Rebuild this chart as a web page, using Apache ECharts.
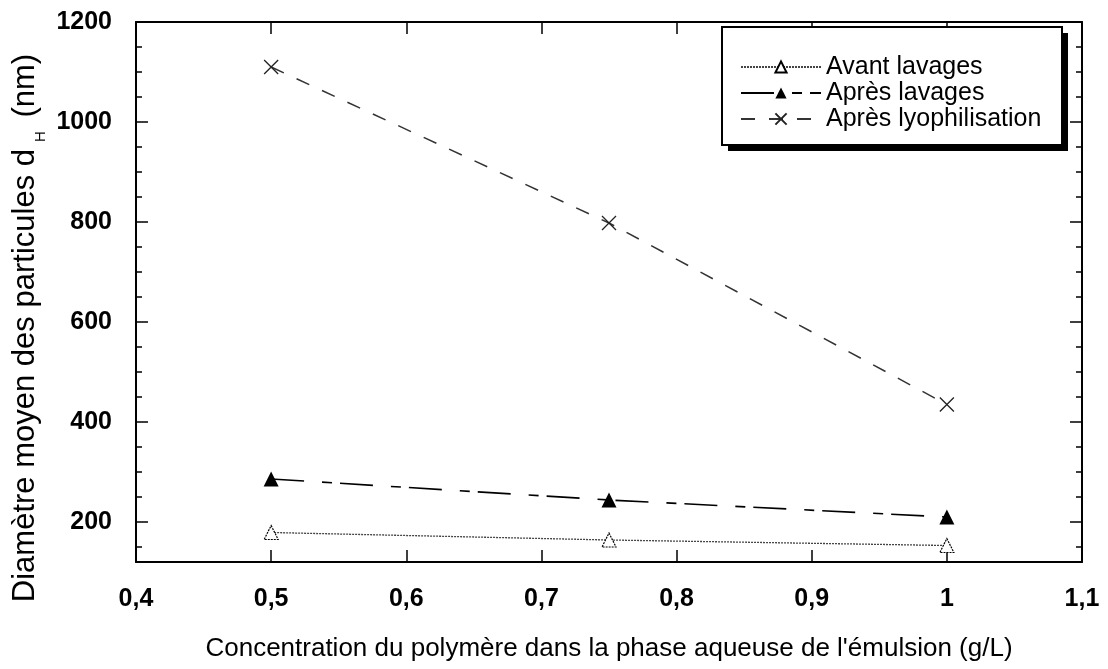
<!DOCTYPE html>
<html>
<head>
<meta charset="utf-8">
<script src="https://cdn.jsdelivr.net/npm/echarts@6/dist/echarts.min.js"></script>
<style>
  html, body { margin: 0; padding: 0; background: #fff; }
  #chart1 { width: 1108px; height: 669px; }
</style>
</head>
<body>
<div id="chart1"></div>
<script>
// concentration (g/L)
const concentrations = [0.5, 0.75, 1];
// diametre moyen (nm)
const avantLavages = [179, 164, 153];
const apresLavages = [286, 244, 210];
const apresLyophilisation = [1110, 798, 435];
const seriesNames = ['Avant lavages', 'Après lavages', 'Après lyophilisation'];
const yMajorTicks = [200, 400, 600, 800, 1000, 1200];
const yMinorTicks = [150, 250, 300, 350, 450, 500, 550, 650, 700, 750, 850, 900, 950, 1050, 1100, 1150];

const FONT = '"Liberation Sans", Arial, Helvetica, sans-serif';

const toPairs = (xs, ys) => xs.map((x, i) => [x, ys[i]]);

// 0.5 -> "0,5", 1 -> "1"
const fmtX = v => String(Number(v.toFixed(1))).replace('.', ',');

const chartDiv = document.getElementById('chart1');
const myChart = echarts.init(chartDiv, null, { renderer: 'canvas' });

const yAxisBase = (position, ticks, len, showLabel, showLine) => ({
  type: 'value',
  position: position,
  min: 120,
  max: 1200,
  axisLine: { show: showLine, lineStyle: { color: '#000', width: 2 } },
  axisTick: {
    show: true,
    inside: true,
    length: len,
    customValues: ticks,
    lineStyle: { color: '#000', width: 1.5 }
  },
  axisLabel: {
    show: showLabel,
    customValues: ticks,
    color: '#000',
    fontSize: 25,
    fontWeight: 'bold',
    fontFamily: FONT,
    margin: 24,
    formatter: v => String(v)
  },
  splitLine: { show: false }
});

const xAxisBase = (position, showLabel) => ({
  type: 'value',
  position: position,
  min: 0.4,
  max: 1.1,
  interval: 0.1,
  axisLine: { show: true, onZero: false, lineStyle: { color: '#000', width: 2 } },
  axisTick: { show: true, inside: true, length: 12, lineStyle: { color: '#000', width: 1.5 } },
  axisLabel: {
    show: showLabel,
    color: '#000',
    fontSize: 25,
    fontWeight: 'bold',
    fontFamily: FONT,
    margin: 25,
    formatter: fmtX
  },
  splitLine: { show: false }
});

const option = {
  animation: false,
  backgroundColor: '#fff',
  grid: { left: 136, right: 26, top: 22, bottom: 107, containLabel: false },
  xAxis: [
    Object.assign(xAxisBase('bottom', true), {
      name: "Concentration du polymère dans la phase aqueuse de l'émulsion (g/L)",
      nameLocation: 'middle',
      nameGap: 74,
      nameTextStyle: { color: '#000', fontSize: 26, fontFamily: FONT }
    }),
    xAxisBase('top', false)
  ],
  yAxis: [
    yAxisBase('left', yMajorTicks, 12, true, true),
    yAxisBase('left', yMinorTicks, 6, false, false),
    yAxisBase('right', yMajorTicks, 12, false, true),
    yAxisBase('right', yMinorTicks, 6, false, false)
  ],
  legend: {
    orient: 'vertical',
    left: 735,
    top: 49,
    itemWidth: 80,
    itemHeight: 14,
    itemGap: 0,
    data: seriesNames,
    textStyle: { color: '#000', fontSize: 25, lineHeight: 26, fontFamily: FONT },
    z: 10
  },
  graphic: [
    // legend frame: black drop shadow, then white box with border
    {
      type: 'rect',
      z: 5,
      shape: { x: 728, y: 33, width: 340, height: 118 },
      style: { fill: '#000' }
    },
    {
      type: 'rect',
      z: 6,
      shape: { x: 722, y: 27, width: 340, height: 118 },
      style: { fill: '#fff', stroke: '#000', lineWidth: 2 }
    },
    {
      type: 'text',
      x: 25,
      y: 328,
      rotation: Math.PI / 2,
      style: {
        text: '{b|Diamètre moyen des particules d}{s|H}{b| (nm)}',
        align: 'center',
        verticalAlign: 'middle',
        fill: '#000',
        rich: {
          b: { fontSize: 31, lineHeight: 32, fontFamily: FONT, fill: '#000' },
          s: { fontSize: 15, lineHeight: 15, fontFamily: FONT, fill: '#000', padding: [32, 5, 0, 7] }
        }
      }
    }
  ],
  series: [
    {
      name: seriesNames[0],
      type: 'line',
      data: toPairs(concentrations, avantLavages),
      symbol: 'triangle',
      symbolSize: 14,
      itemStyle: { color: '#fff', borderColor: '#000', borderWidth: 1.2, borderType: [2, 1] },
      lineStyle: { color: '#444', width: 1.3, type: [2, 1] }
    },
    {
      name: seriesNames[1],
      type: 'line',
      data: toPairs(concentrations, apresLavages),
      symbol: 'triangle',
      symbolSize: 15,
      itemStyle: { color: '#000', borderColor: '#000', borderWidth: 0 },
      lineStyle: { color: '#000', width: 1.6, type: [33, 18, 10, 8] }
    },
    {
      name: seriesNames[2],
      type: 'line',
      data: toPairs(concentrations, apresLyophilisation),
      symbol: 'path://M0,0L10,10M10,0L0,10',
      symbolSize: 14,
      itemStyle: { color: 'none', borderColor: '#222', borderWidth: 1.3 },
      lineStyle: { color: '#333', width: 1.5, type: [14, 14] }
    }
  ]
};

if (option && typeof option === 'object') {
  myChart.setOption(option);
}
</script>
</body>
</html>
